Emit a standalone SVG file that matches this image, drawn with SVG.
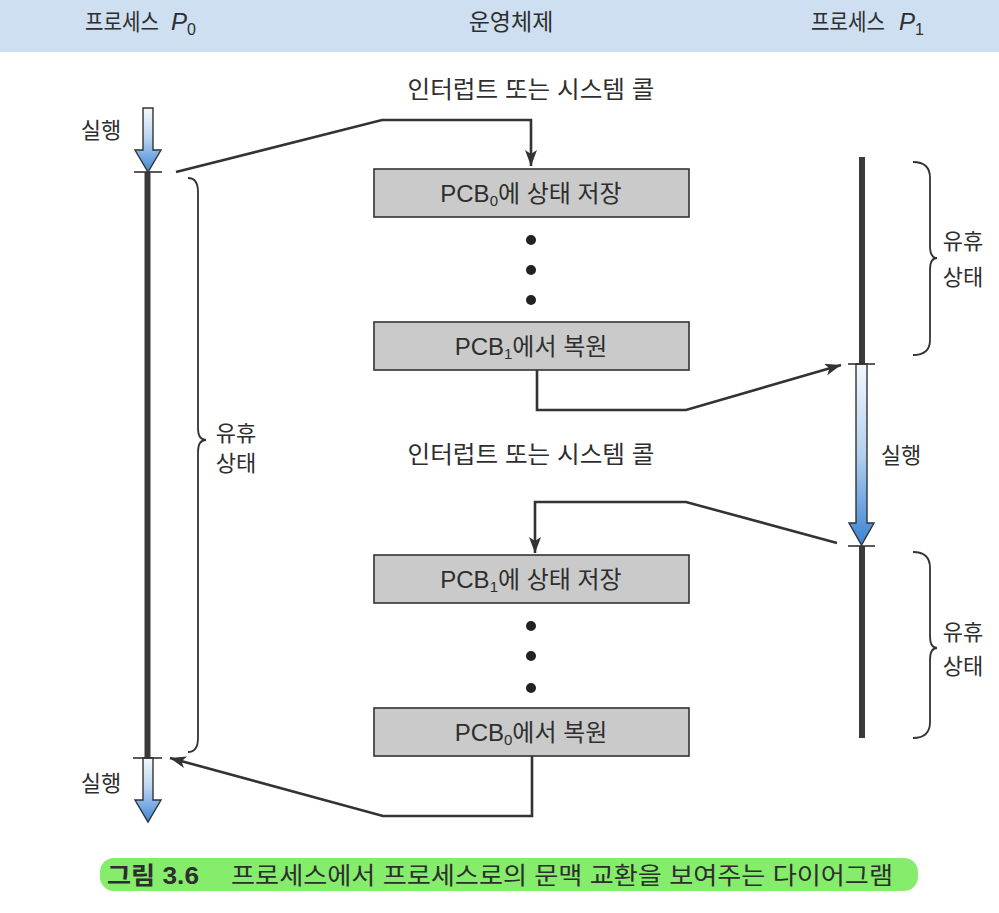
<svg xmlns="http://www.w3.org/2000/svg" width="999" height="913" viewBox="0 0 999 913">
<defs>
<style>
text{font-family:"Liberation Sans","Noto Sans CJK KR",sans-serif;fill:#2e2e2e;}
.hd{font-size:23px;}
.lb{font-size:22px;}
.it{font-size:24px;text-anchor:middle;}
.bt{font-size:24px;text-anchor:middle;}
.box{fill:#cacaca;stroke:#333;stroke-width:1.6;}
.tl{stroke:#3a3a3a;stroke-width:6;}
.tick{stroke:#333;stroke-width:1.6;}
.run{stroke:#333;stroke-width:1.4;stroke-linejoin:miter;}
.brace{fill:none;stroke:#333;stroke-width:1.8;}
.con{fill:none;stroke:#333;stroke-width:2.6;stroke-linejoin:miter;}
.dot{fill:#222;}
</style>
<linearGradient id="g1" x1="0" y1="0" x2="0" y2="1">
<stop offset="0" stop-color="#f4f8fc"/>
<stop offset="0.45" stop-color="#bcd6f0"/>
<stop offset="1" stop-color="#3d86d8"/>
</linearGradient>
<linearGradient id="g2" x1="0" y1="0" x2="0" y2="1">
<stop offset="0" stop-color="#f4f8fc"/>
<stop offset="0.5" stop-color="#b3d0ee"/>
<stop offset="1" stop-color="#3a84d6"/>
</linearGradient>
<marker id="ah" markerUnits="userSpaceOnUse" markerWidth="18" markerHeight="14" refX="16" refY="6" orient="auto">
<path d="M0,0 L16,6 L0,12 L4,6 z" fill="#333"/>
</marker>
</defs>
<rect x="0" y="0" width="999" height="913" fill="#ffffff"/>
<g id="header">
<rect x="0" y="0" width="999" height="52" fill="#cddff0"/>
<text class="hd" x="85" y="30" textLength="74" lengthAdjust="spacingAndGlyphs">프로세스</text>
<text class="hd" x="171" y="30"><tspan font-style="italic" font-size="24">P</tspan><tspan font-size="16" dy="5">0</tspan></text>
<text class="hd" x="511" y="30" text-anchor="middle">운영체제</text>
<text class="hd" x="811" y="30" textLength="74" lengthAdjust="spacingAndGlyphs">프로세스</text>
<text class="hd" x="899" y="30"><tspan font-style="italic" font-size="24">P</tspan><tspan font-size="16" dy="5">1</tspan></text>
</g>
<g id="process-p0">
<line class="tl" x1="147.5" y1="172" x2="147.5" y2="758"/>
<polygon class="run" fill="url(#g1)" points="143,108 153,108 153,150 161,150 148,172 135,150 143,150"/>
<polygon class="run" fill="url(#g1)" points="143,758 153,758 153,800 161,800 148,822 135,800 143,800"/>
<line class="tick" x1="134" y1="172" x2="162" y2="172"/>
<line class="tick" x1="133" y1="758" x2="162" y2="758"/>
<text class="lb" x="101" y="138" text-anchor="middle">실행</text>
<text class="lb" x="101" y="791" text-anchor="middle">실행</text>
<path class="brace" d="M188,178 Q198,178 198,192 L198,428 Q198,440 206,440 Q198,440 198,452 L198,738 Q198,752 188,752"/>
<text class="lb" x="236" y="441" text-anchor="middle">유휴</text>
<text class="lb" x="236" y="471" text-anchor="middle">상태</text>
</g>
<g id="process-p1">
<line class="tl" x1="862" y1="157" x2="862" y2="364"/>
<line class="tl" x1="862" y1="546" x2="862" y2="738"/>
<polygon class="run" fill="url(#g2)" points="856,364 867,364 867,523 874,523 861.5,545 849,523 856,523"/>
<line class="tick" x1="848" y1="364" x2="875" y2="364"/>
<line class="tick" x1="848" y1="546" x2="875" y2="546"/>
<text class="lb" x="901" y="463" text-anchor="middle">실행</text>
<path class="brace" d="M913,162 Q930,162 930,178 L930,246 Q930,258 937,258 Q930,258 930,270 L930,340 Q930,355 913,355"/>
<text class="lb" x="963" y="249" text-anchor="middle">유휴</text>
<text class="lb" x="963" y="285" text-anchor="middle">상태</text>
<path class="brace" d="M913,552 Q930,552 930,568 L930,636 Q930,648 937,648 Q930,648 930,660 L930,722 Q930,738 913,738"/>
<text class="lb" x="963" y="640" text-anchor="middle">유휴</text>
<text class="lb" x="963" y="674" text-anchor="middle">상태</text>
</g>
<g id="os">
<text class="it" x="531" y="98" textLength="247" lengthAdjust="spacingAndGlyphs">인터럽트 또는 시스템 콜</text>
<text class="it" x="531" y="463" textLength="247" lengthAdjust="spacingAndGlyphs">인터럽트 또는 시스템 콜</text>
</g>
<g id="box-save-pcb0">
<rect class="box" x="374" y="169" width="315" height="48"/>
<text class="bt" x="531" y="202">PCB<tspan font-size="15" dy="4">0</tspan><tspan dy="-4">에 상태 저장</tspan></text>
</g>
<g id="dots-1">
<circle class="dot" cx="531" cy="240" r="5"/>
<circle class="dot" cx="531" cy="270" r="5"/>
<circle class="dot" cx="531" cy="300" r="5"/>
</g>
<g id="box-restore-pcb1">
<rect class="box" x="374" y="322" width="315" height="48"/>
<text class="bt" x="531" y="355">PCB<tspan font-size="15" dy="4">1</tspan><tspan dy="-4">에서 복원</tspan></text>
</g>
<g id="box-save-pcb1">
<rect class="box" x="374" y="555" width="315" height="48"/>
<text class="bt" x="531" y="588">PCB<tspan font-size="15" dy="4">1</tspan><tspan dy="-4">에 상태 저장</tspan></text>
</g>
<g id="dots-2">
<circle class="dot" cx="531" cy="626" r="5"/>
<circle class="dot" cx="531" cy="656" r="5"/>
<circle class="dot" cx="531" cy="688" r="5"/>
</g>
<g id="box-restore-pcb0">
<rect class="box" x="374" y="708" width="315" height="48"/>
<text class="bt" x="531" y="741">PCB<tspan font-size="15" dy="4">0</tspan><tspan dy="-4">에서 복원</tspan></text>
</g>
<g id="connectors">
<path class="con" d="M176,172 L382,120 L531,120 L531,166" marker-end="url(#ah)"/>
<path class="con" d="M537,370 L537,410 L686,410 L841,365" marker-end="url(#ah)"/>
<path class="con" d="M837,543 L686,502 L535,502 L535,553" marker-end="url(#ah)"/>
<path class="con" d="M532,756 L532,816 L383,816 L170,758" marker-end="url(#ah)"/>
</g>
<g id="caption">
<rect x="100" y="858" width="818" height="33" rx="14" fill="#86ec6c"/>
<text x="107" y="884" font-size="24" font-weight="bold" fill="#1a1a1a" textLength="92" lengthAdjust="spacingAndGlyphs">그림 3.6</text>
<text x="231" y="884" font-size="24" textLength="662" lengthAdjust="spacingAndGlyphs">프로세스에서 프로세스로의 문맥 교환을 보여주는 다이어그램</text>
</g>
</svg>
